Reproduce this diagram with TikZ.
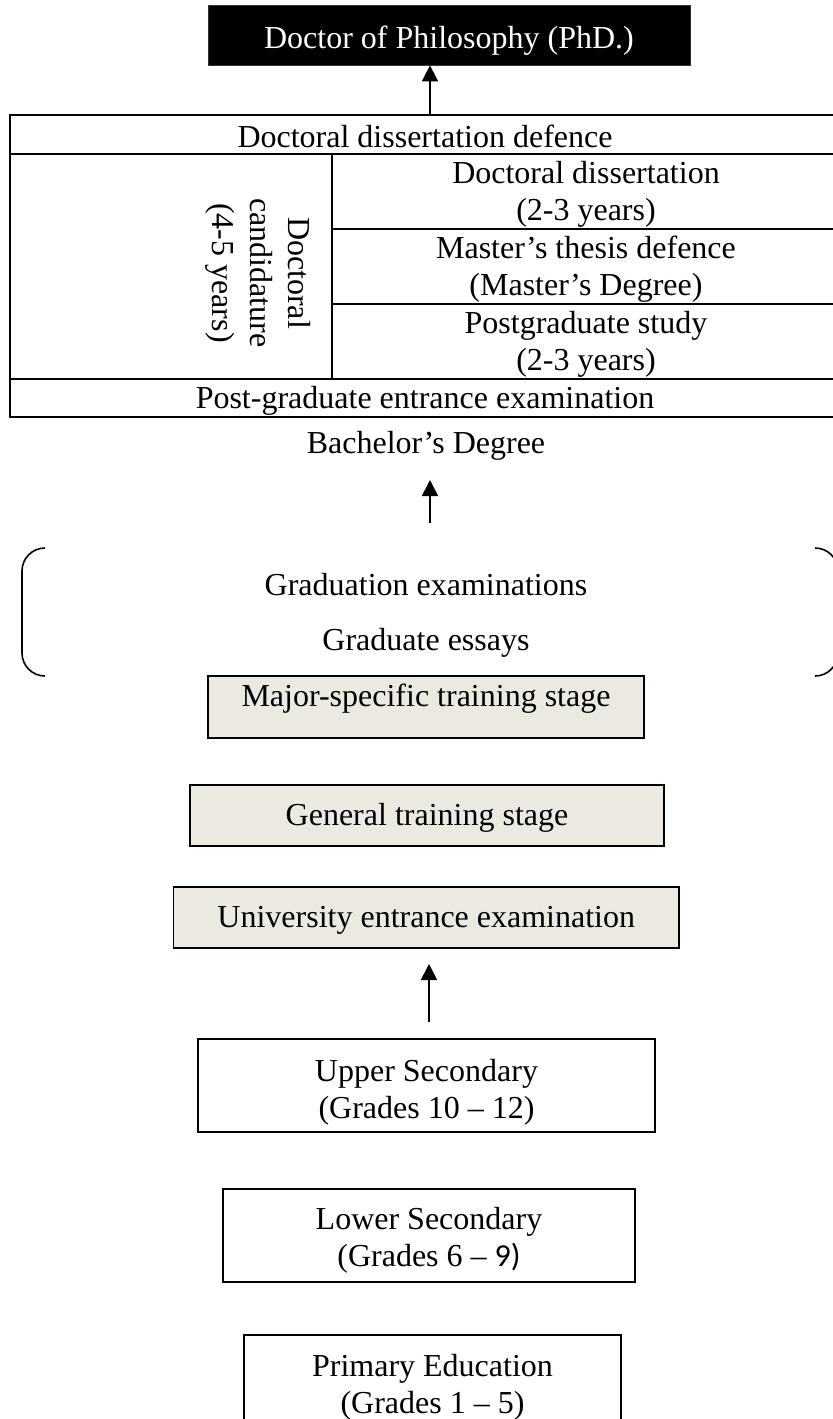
\documentclass[tikz,border=0pt]{standalone}
\usepackage{fontspec}
\setmainfont{Liberation Serif}
\newfontfamily\calibrifont{Carlito}
\usetikzlibrary{arrows.meta}
\definecolor{stagefill}{RGB}{236,233,224}
\begin{document}
\begin{tikzpicture}[x=0.5pt,y=-0.5pt,
  every node/.style={font=\fontsize{16}{18.5}\selectfont, inner sep=0pt},
  plainbox/.style={draw, line width=0.9pt, align=center},
  stagebox/.style={draw, line width=0.9pt, fill=stagefill, align=center},
  cell/.style={align=center},
  gridline/.style={line width=1pt},
  uparrow/.style={line width=0.9pt, -{Triangle[width=8pt,length=8pt]}},
  bracket/.style={line width=0.8pt, rounded corners=11.5pt}]
\useasboundingbox (0,0) rectangle (833,1419);
\clip (0,0) rectangle (833,1419);

% doctorate
\node[draw=black!80, fill=black, text=white, minimum width=241pt, minimum height=30pt,
      text height=16pt, text depth=3pt] (phd) at (449,35) {Doctor of Philosophy (PhD.)};

% postgraduate table
\draw[gridline] (10,115) rectangle (840,417);
\draw[gridline] (10,154) -- (840,154);
\draw[gridline] (10,379) -- (840,379);
\draw[gridline] (332,154) -- (332,379);
\draw[gridline] (332,229) -- (840,229);
\draw[gridline] (332,304) -- (840,304);

\node[cell, text height=15.5pt, text depth=3pt] (defence) at (425,134.5) {Doctoral dissertation defence};
\node[cell] (diss) at (586,194.5) {Doctoral dissertation\\(2-3 years)};
\node[cell] (master) at (586,269.5) {Master’s thesis defence\\(Master’s Degree)};
\node[cell] (pgstudy) at (586,344.5) {Postgraduate study\\(2-3 years)};
\node[cell, font=\fontsize{16}{19}\selectfont, rotate=-90] (cand) at (258,273) {Doctoral\\candidature\\(4-5 years)};
\node[cell, text height=13pt, text depth=3pt] (pgexam) at (425,398) {Post-graduate entrance examination};

\coordinate (tabtop) at (430,115);
\draw[uparrow] (tabtop) -- (tabtop |- phd.south);

% bachelor level
\node[anchor=base] (bachelor) at (426,453) {Bachelor’s Degree};
\coordinate (a2from) at (430,523);
\coordinate (a2to) at (430,480);
\draw[uparrow] (a2from) -- (a2to);

\draw[bracket] (45,548) -- (22,548) -- (22,676) -- (45,676);
\draw[bracket] (815,548) -- (838,548) -- (838,676) -- (815,676);
\node[anchor=base] (gradexam) at (426,595) {Graduation examinations};
\node[anchor=base] (gradessay) at (426,650) {Graduate essays};

\node[stagebox, minimum width=218pt, minimum height=31pt] (major) at (426,707) {};
\node[anchor=base] (majortext) at (426,706) {Major-specific training stage};
\node[stagebox, minimum width=237pt, minimum height=30.5pt, text height=12.5pt, text depth=3pt] (general) at (427,815.5) {General training stage};
\node[stagebox, minimum width=252.75pt, minimum height=30.5pt, text height=12.5pt, text depth=3pt] (univ) at (426.25,917.5) {University entrance examination};

\coordinate (a3from) at (429,1022);
\coordinate (a3to) at (429,964);
\draw[uparrow] (a3from) -- (a3to);

% school levels
\node[plainbox, minimum width=228.5pt, minimum height=46.5pt] (upper) at (426.5,1085.5) {\rule{0pt}{18pt}Upper Secondary\\(Grades 10 – 12)};
\node[plainbox, minimum width=206pt, minimum height=46.5pt] (lower) at (429,1235.5) {\rule{0pt}{16pt}Lower Secondary\\(Grades 6 – {\calibrifont 9)}};
\node[plainbox, minimum width=188.5pt, minimum height=47.5pt] (primary) at (432.5,1382.5) {\rule{0pt}{15.5pt}Primary Education\\(Grades 1 – 5)};
\end{tikzpicture}
\end{document}
